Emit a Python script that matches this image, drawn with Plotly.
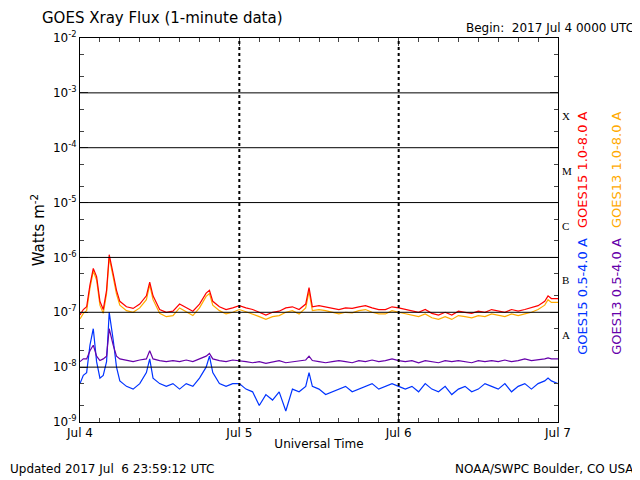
import plotly.graph_objects as go

hours = [0,0.5,1,1.5,2,2.5,3,3.5,4,4.4,5,5.5,6,7,8,9,10,10.5,11,12,13,14,15,16,17,18,19,19.5,20,21,22,23,24,25,26,27,28,29,30,31,32,33,34,34.5,35,36,37,38,39,40,41,42,43,44,45,46,47,48,49,50,51,52,53,54,55,56,57,58,59,60,61,62,63,64,65,66,67,68,69,70,70.5,71,72]
g15_long = [-7.05,-6.95,-6.9,-6.5,-6.2,-6.35,-6.8,-6.95,-6.6,-5.95,-6.3,-6.6,-6.8,-6.9,-6.93,-6.85,-6.7,-6.45,-6.7,-6.95,-7.0,-6.98,-6.85,-6.92,-6.98,-6.85,-6.65,-6.6,-6.8,-6.9,-6.95,-6.92,-6.88,-6.92,-6.95,-7.0,-7.05,-7.0,-6.98,-6.92,-6.9,-6.95,-6.85,-6.55,-6.9,-6.88,-6.9,-6.92,-6.95,-6.92,-6.93,-6.9,-6.88,-6.92,-6.95,-6.95,-6.9,-6.92,-6.95,-6.98,-7.0,-6.95,-7.02,-7.05,-7.0,-7.05,-6.98,-7.0,-7.02,-6.98,-7.0,-6.95,-6.98,-7.0,-6.95,-6.98,-6.95,-6.92,-6.88,-6.8,-6.7,-6.75,-6.75]
g13_long = [-7.12,-7.02,-6.97,-6.56,-6.25,-6.41,-6.87,-7.02,-6.66,-6.0,-6.36,-6.67,-6.87,-6.97,-7.0,-6.92,-6.77,-6.5,-6.77,-7.02,-7.08,-7.06,-6.92,-6.99,-7.06,-6.92,-6.71,-6.66,-6.87,-6.97,-7.03,-7.0,-6.95,-6.99,-7.03,-7.08,-7.13,-7.08,-7.06,-7.0,-6.97,-7.03,-6.92,-6.62,-6.97,-6.95,-6.97,-7.0,-7.03,-7.0,-7.01,-6.97,-6.95,-7.0,-7.03,-7.03,-6.97,-7.0,-7.03,-7.06,-7.08,-7.03,-7.1,-7.13,-7.08,-7.13,-7.06,-7.08,-7.1,-7.06,-7.08,-7.03,-7.06,-7.08,-7.03,-7.06,-7.03,-7.0,-6.95,-6.87,-6.77,-6.82,-6.82]
g15_short = [-8.3,-8.15,-8.1,-7.6,-7.3,-7.9,-8.2,-8.15,-7.9,-7.0,-7.5,-8.0,-8.25,-8.35,-8.4,-8.3,-8.1,-7.85,-8.2,-8.3,-8.35,-8.3,-8.4,-8.3,-8.35,-8.2,-8.0,-7.8,-8.1,-8.3,-8.35,-8.3,-8.3,-8.4,-8.45,-8.7,-8.5,-8.6,-8.45,-8.8,-8.4,-8.45,-8.35,-8.1,-8.35,-8.4,-8.5,-8.45,-8.4,-8.35,-8.45,-8.4,-8.35,-8.3,-8.4,-8.35,-8.3,-8.35,-8.4,-8.35,-8.45,-8.3,-8.4,-8.45,-8.35,-8.5,-8.4,-8.35,-8.45,-8.4,-8.3,-8.35,-8.4,-8.3,-8.45,-8.35,-8.3,-8.4,-8.3,-8.25,-8.2,-8.25,-8.3]
g13_short = [-7.9,-7.85,-7.85,-7.7,-7.6,-7.8,-7.88,-7.85,-7.8,-7.3,-7.6,-7.8,-7.85,-7.88,-7.9,-7.87,-7.85,-7.7,-7.85,-7.88,-7.9,-7.88,-7.9,-7.87,-7.9,-7.85,-7.8,-7.75,-7.85,-7.88,-7.9,-7.87,-7.88,-7.9,-7.92,-7.9,-7.93,-7.9,-7.88,-7.92,-7.9,-7.88,-7.87,-7.8,-7.88,-7.9,-7.92,-7.9,-7.88,-7.9,-7.92,-7.88,-7.9,-7.87,-7.9,-7.88,-7.85,-7.88,-7.9,-7.88,-7.92,-7.88,-7.9,-7.92,-7.88,-7.9,-7.88,-7.9,-7.92,-7.88,-7.9,-7.88,-7.9,-7.87,-7.9,-7.88,-7.85,-7.88,-7.87,-7.85,-7.83,-7.85,-7.85]
day_ticks = [0, 24, 48, 72]
day_labels = ["Jul 4", "Jul 5", "Jul 6", "Jul 7"]
decades = [-9, -8, -7, -6, -5, -4, -3, -2]
classes = ["A", "B", "C", "M", "X"]
class_pos = [-7.5, -6.5, -5.5, -4.5, -3.5]

F = "DejaVu Sans"
fig = go.Figure()
for vals, col in [(g15_short, "#0033ff"), (g13_short, "#6600aa"), (g13_long, "#ffaa00"), (g15_long, "#ff0000")]:
    fig.add_trace(go.Scatter(x=hours, y=[10**v for v in vals], mode="lines",
                             line=dict(color=col, width=1.2), showlegend=False))

for d in decades[1:-1]:
    fig.add_shape(type="line", xref="x", yref="y", x0=0, x1=72, y0=10**d, y1=10**d,
                  line=dict(color="black", width=1))
for t in [24, 48]:
    fig.add_shape(type="line", xref="x", yref="paper", x0=t, x1=t, y0=0, y1=1,
                  line=dict(color="black", width=2, dash="dot"))

fig.update_xaxes(range=[0, 72], tickvals=day_ticks, ticktext=day_labels, ticks="inside",
                 ticklen=8, mirror="ticks", showline=True, linecolor="black", showgrid=False,
                 zeroline=False, minor=dict(dtick=3, ticks="inside", ticklen=4),
                 title=dict(text="Universal Time", font=dict(size=12, family=F), standoff=0),
                 tickfont=dict(size=12, family=F, color="black"), automargin=False)
fig.update_yaxes(type="log", range=[-9, -2], tickvals=[10**d for d in decades],
                 ticktext=["10<sup>%d</sup>" % d for d in decades], ticks="inside", ticklen=8,
                 mirror="ticks", showline=True, linecolor="black", showgrid=False,
                 minor=dict(ticks="inside", ticklen=4, showgrid=False),
                 title=dict(text="Watts m<sup>-2</sup>", font=dict(size=15, family=F), standoff=4),
                 tickfont=dict(size=12, family=F, color="black"), automargin=False)

ann = [
    dict(x=0.0, y=1.0, xref="paper", yref="paper", xanchor="left", yanchor="bottom", xshift=-40, yshift=9,
         text="GOES Xray Flux (1-minute data)", font=dict(size=15, family=F)),
    dict(x=1.0, y=1.0, xref="paper", yref="paper", xanchor="right", yanchor="bottom", xshift=78, yshift=1,
         text="Begin:  2017 Jul 4 0000 UTC", font=dict(size=12, family=F)),
    dict(x=0, y=0, xref="paper", yref="paper", xanchor="left", yanchor="top", xshift=-72, yshift=-38,
         text="Updated 2017 Jul  6 23:59:12 UTC", font=dict(size=12, family=F)),
    dict(x=1, y=0, xref="paper", yref="paper", xanchor="right", yanchor="top", xshift=78, yshift=-38,
         text="NOAA/SWPC Boulder, CO USA", font=dict(size=12, family=F)),
    dict(x=1, y=0.815, xref="paper", yref="paper", xshift=34, textangle=-90,
         text="GOES15 1.0-8.0 A", font=dict(size=13, family=F, color="#ff0000")),
    dict(x=1, y=0.815, xref="paper", yref="paper", xshift=68, textangle=-90,
         text="GOES13 1.0-8.0 A", font=dict(size=13, family=F, color="#ffaa00")),
    dict(x=1, y=0.17, xref="paper", yref="paper", xshift=34, textangle=-90,
         text="GOES15 0.5-4.0 A", font=dict(size=13, family=F, color="#0033ff")),
    dict(x=1, y=0.17, xref="paper", yref="paper", xshift=68, textangle=-90,
         text="GOES13 0.5-4.0 A", font=dict(size=13, family=F, color="#6600aa")),
]
for c, p in zip(classes, class_pos):
    ann.append(dict(x=1, y=p + 0.08, xref="paper", yref="y", xanchor="left", xshift=2, text=c,
                    font=dict(size=11, family="Liberation Serif")))
for a in ann:
    a["showarrow"] = False
fig.update_layout(width=640, height=480, margin=dict(l=72, r=90, t=30, b=66),
                  plot_bgcolor="white", paper_bgcolor="white", annotations=ann,
                  font=dict(family=F, color="black"))
fig.write_html("out.html")
